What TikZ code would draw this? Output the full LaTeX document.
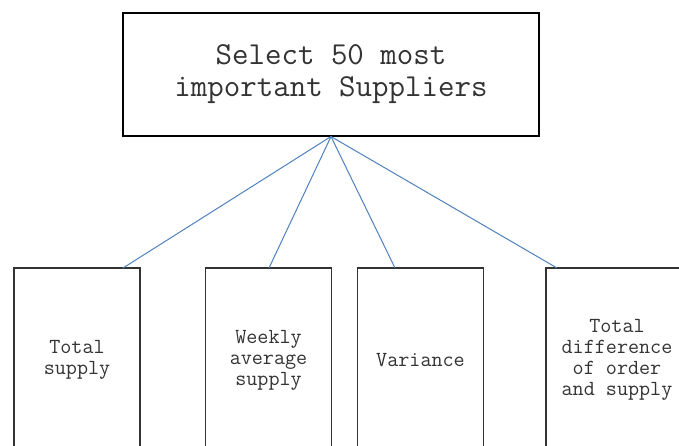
\documentclass[tikz,border=0pt]{standalone}
\begin{document}
\begin{tikzpicture}[x=1pt,y=-1pt,
  topbox/.style={draw=black,line width=1.1pt,minimum width=416pt,minimum height=123pt,inner sep=0pt,align=center,
    font=\ttfamily\fontsize{32}{32}\selectfont,text=black!80},
  leafbox/.style={draw=black!80,line width=1.3pt,minimum width=126pt,minimum height=184pt,inner sep=0pt,align=center,
    font=\ttfamily\fontsize{21.5}{21}\selectfont,text=black!80},
  link/.style={draw={rgb,255:red,79;green,129;blue,189},line width=1pt}]
\useasboundingbox (0,0) rectangle (679,446);
\clip (0,0) rectangle (679,446);
\node[topbox] (top) at (331,74.5) {Select 50 most\\important Suppliers};
\node[leafbox] (b1) at (77,360) {Total\\supply};
\node[leafbox] (b2) at (268.5,360) {Weekly\\average\\supply};
\node[leafbox] (b3) at (420.5,360) {Variance};
\node[leafbox,minimum width=142pt] (b4) at (617,360) {Total\\difference\\of order\\and supply};
\coordinate (e1) at (123,268);
\coordinate (e2) at (269,268);
\coordinate (e3) at (395,268);
\coordinate (e4) at (557,268);
\draw[link] (top.south) -- (e1);
\draw[link] (top.south) -- (e2);
\draw[link] (top.south) -- (e3);
\draw[link] (top.south) -- (e4);
\end{tikzpicture}
\end{document}
